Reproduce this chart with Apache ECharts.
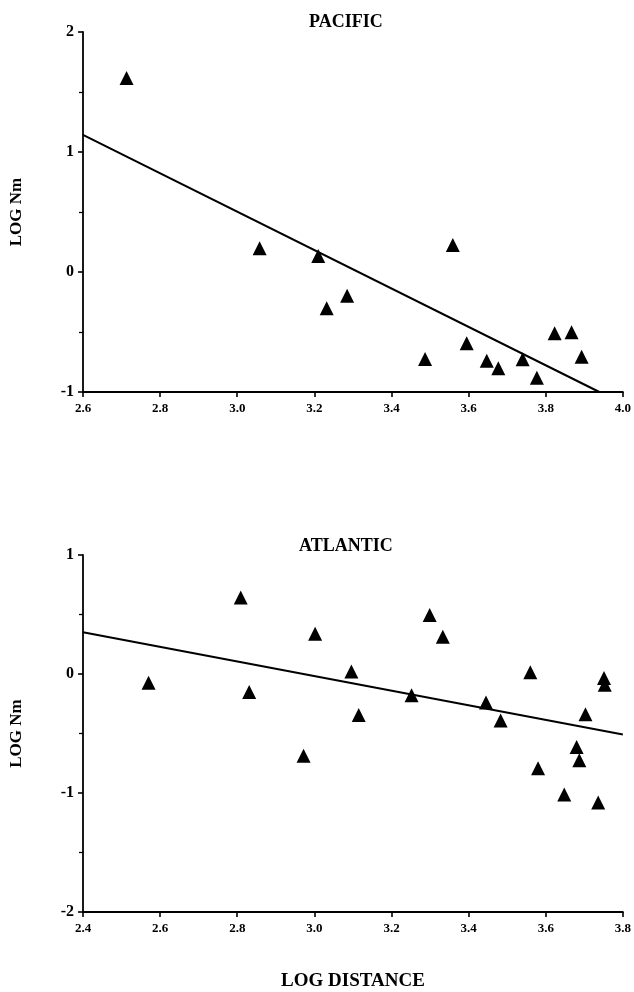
<!DOCTYPE html>
<html>
<head>
<meta charset="utf-8">
<script src="https://cdn.jsdelivr.net/npm/echarts@6/dist/echarts.min.js"></script>
<style>
html,body{margin:0;padding:0;background:#fff;}
#chart{width:634px;height:992px;}
</style>
</head>
<body>
<div id="chart"></div>
<script>
// ---- data ----
const pacificLogDistance = [2.713, 3.058, 3.210, 3.232, 3.285, 3.487, 3.559, 3.595, 3.647, 3.677, 3.740, 3.777, 3.823, 3.867, 3.893];
const pacificLogNm       = [1.617, 0.197, 0.133, -0.303, -0.197, -0.725, 0.225, -0.594, -0.739, -0.803, -0.728, -0.881, -0.511, -0.503, -0.706];
const pacificFitX = [2.6, 3.939];
const pacificFitY = [1.142, -1.0];

const atlanticLogDistance = [2.570, 2.809, 2.831, 2.972, 3.002, 3.096, 3.115, 3.252, 3.299, 3.333, 3.445, 3.483, 3.560, 3.580, 3.648, 3.680, 3.687, 3.703, 3.736, 3.751, 3.753];
const atlanticLogNm       = [-0.074, 0.642, -0.151, -0.688, 0.339, 0.020, -0.344, -0.179, 0.496, 0.312, -0.240, -0.391, 0.014, -0.793, -1.013, -0.614, -0.724, -0.339, -1.079, -0.033, -0.091];
const atlanticFitX = [2.4, 3.8];
const atlanticFitY = [0.350, -0.509];

const panelTitles = ['PACIFIC', 'ATLANTIC'];
const yAxisName = 'LOG Nm';
const xAxisName = 'LOG DISTANCE';

// ---- helpers ----
const zip = (xs, ys) => xs.map((x, i) => [x, ys[i]]);
const FONT = '"Liberation Serif", "DejaVu Serif", serif';

function xAxisCfg(gridIndex, min, max, name) {
  return {
    type: 'value', gridIndex, min, max, interval: 0.2,
    name: name || '', nameLocation: 'middle', nameGap: 60,
    nameTextStyle: { fontFamily: FONT, fontWeight: 'bold', fontSize: 19, color: '#000' },
    axisLine: { show: true, onZero: false, lineStyle: { color: '#000', width: 1.8 } },
    axisTick: { show: true, inside: false, length: 5, lineStyle: { color: '#000', width: 1.6 } },
    axisLabel: { color: '#000', fontFamily: FONT, fontWeight: 'bold', fontSize: 13, margin: 10,
                 formatter: v => v.toFixed(1) },
    splitLine: { show: false }
  };
}
function yAxisCfg(gridIndex, min, max) {
  return {
    type: 'value', gridIndex, min, max, interval: 1,
    name: yAxisName, nameLocation: 'middle', nameGap: 58, nameRotate: 90,
    nameTextStyle: { fontFamily: FONT, fontWeight: 'bold', fontSize: 17, color: '#000' },
    axisLine: { show: true, onZero: false, lineStyle: { color: '#000', width: 1.8 } },
    axisTick: { show: true, inside: false, length: 5, lineStyle: { color: '#000', width: 1.6 } },
    minorTick: { show: true, splitNumber: 2, length: 4, lineStyle: { color: '#000', width: 1.3 } },
    axisLabel: { color: '#000', fontFamily: FONT, fontWeight: 'bold', fontSize: 16, margin: 9 },
    splitLine: { show: false }
  };
}

const chart = echarts.init(document.getElementById('chart'), null, { renderer: 'canvas' });
chart.setOption({
  backgroundColor: '#fff',
  animation: false,
  title: [
    { text: panelTitles[0], left: 304, top: 8,
      textStyle: { fontFamily: FONT, fontWeight: 'bold', fontSize: 18, color: '#000' } },
    { text: panelTitles[1], left: 294, top: 532,
      textStyle: { fontFamily: FONT, fontWeight: 'bold', fontSize: 18, color: '#000' } }
  ],
  grid: [
    { left: 81, width: 545, top: 32, height: 360 },
    { left: 81, width: 545, top: 555, height: 363 }
  ],
  xAxis: [
    xAxisCfg(0, 2.6, 4.0),
    xAxisCfg(1, 2.4, 3.8, xAxisName)
  ],
  yAxis: [
    yAxisCfg(0, -1, 2),
    yAxisCfg(1, -2, 1)
  ],
  series: [
    { type: 'scatter', xAxisIndex: 0, yAxisIndex: 0, symbol: 'triangle', symbolSize: 14,
      itemStyle: { color: '#000', opacity: 1 }, data: zip(pacificLogDistance, pacificLogNm), z: 3 },
    { type: 'line', xAxisIndex: 0, yAxisIndex: 0, showSymbol: false, symbol: 'none',
      lineStyle: { color: '#000', width: 2 }, data: zip(pacificFitX, pacificFitY), z: 2 },
    { type: 'scatter', xAxisIndex: 1, yAxisIndex: 1, symbol: 'triangle', symbolSize: 14,
      itemStyle: { color: '#000', opacity: 1 }, data: zip(atlanticLogDistance, atlanticLogNm), z: 3 },
    { type: 'line', xAxisIndex: 1, yAxisIndex: 1, showSymbol: false, symbol: 'none',
      lineStyle: { color: '#000', width: 2 }, data: zip(atlanticFitX, atlanticFitY), z: 2 }
  ]
});
</script>
</body>
</html>
